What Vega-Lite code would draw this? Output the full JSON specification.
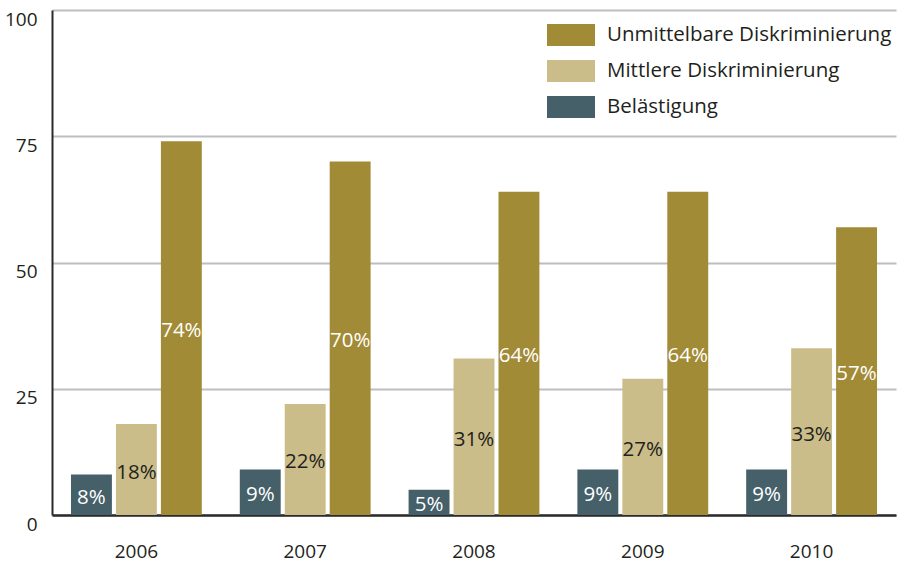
{
  "$schema": "https://vega.github.io/schema/vega-lite/v6.json",
  "width": 844,
  "height": 505,
  "autosize": {"type": "none"},
  "padding": {"left": 52, "top": 10, "right": 1, "bottom": 48},
  "config": {
    "font": "Open Sans",
    "view": {"stroke": null},
    "axis": {"labelColor": "#231f20", "labelFontSize": 19, "ticks": false, "title": null, "domainColor": "#2b2b2b"}
  },
  "data": {
    "values": [
      {"jahr": "2006", "typ": "Belästigung", "wert": 8, "label": "8%"},
      {"jahr": "2006", "typ": "Mittlere Diskriminierung", "wert": 18, "label": "18%"},
      {"jahr": "2006", "typ": "Unmittelbare Diskriminierung", "wert": 74, "label": "74%"},
      {"jahr": "2007", "typ": "Belästigung", "wert": 9, "label": "9%"},
      {"jahr": "2007", "typ": "Mittlere Diskriminierung", "wert": 22, "label": "22%"},
      {"jahr": "2007", "typ": "Unmittelbare Diskriminierung", "wert": 70, "label": "70%"},
      {"jahr": "2008", "typ": "Belästigung", "wert": 5, "label": "5%"},
      {"jahr": "2008", "typ": "Mittlere Diskriminierung", "wert": 31, "label": "31%"},
      {"jahr": "2008", "typ": "Unmittelbare Diskriminierung", "wert": 64, "label": "64%"},
      {"jahr": "2009", "typ": "Belästigung", "wert": 9, "label": "9%"},
      {"jahr": "2009", "typ": "Mittlere Diskriminierung", "wert": 27, "label": "27%"},
      {"jahr": "2009", "typ": "Unmittelbare Diskriminierung", "wert": 64, "label": "64%"},
      {"jahr": "2010", "typ": "Belästigung", "wert": 9, "label": "9%"},
      {"jahr": "2010", "typ": "Mittlere Diskriminierung", "wert": 33, "label": "33%"},
      {"jahr": "2010", "typ": "Unmittelbare Diskriminierung", "wert": 57, "label": "57%"}
    ]
  },
  "encoding": {
    "x": {
      "field": "jahr", "type": "nominal",
      "scale": {"paddingInner": 0.225, "paddingOuter": 0.1125},
      "axis": {"labelAngle": 0, "labelPadding": 27, "domainWidth": 2.5, "labelFontSize": 19}
    },
    "xOffset": {
      "field": "typ", "type": "nominal",
      "sort": ["Belästigung", "Mittlere Diskriminierung", "Unmittelbare Diskriminierung"],
      "scale": {"paddingInner": 0.09, "paddingOuter": 0}
    }
  },
  "layer": [
    {
      "mark": {"type": "bar"},
      "encoding": {
        "y": {
          "field": "wert", "type": "quantitative",
          "scale": {"domain": [0, 100], "nice": false},
          "axis": {"values": [0, 25, 50, 75, 100], "grid": true, "gridColor": "#bdbdc3", "gridWidth": 2, "domainWidth": 2, "labelBaseline": "top", "labelPadding": 15, "labelFontSize": 19}
        },
        "color": {
          "field": "typ", "type": "nominal",
          "scale": {
            "domain": ["Unmittelbare Diskriminierung", "Mittlere Diskriminierung", "Belästigung"],
            "range": ["#a28b36", "#cbbd89", "#456069"]
          },
          "legend": {
            "title": null,
            "orient": "none",
            "legendX": 495,
            "legendY": 1,
            "padding": 0,
            "symbolType": "M-1,-0.46H1V0.46H-1Z",
            "symbolSize": 2304,
            "symbolStrokeWidth": 0,
            "symbolOpacity": 1,
            "labelFontSize": 20.5,
            "labelLimit": 400,
            "labelColor": "#231f20",
            "labelOffset": 12,
            "rowPadding": 0
          }
        }
      }
    },
    {
      "transform": [{"calculate": "datum.wert / 2", "as": "mitte"}],
      "mark": {"type": "text", "fontSize": 20.5, "dy": 3},
      "encoding": {
        "y": {"field": "mitte", "type": "quantitative"},
        "text": {"field": "label"},
        "color": {
          "condition": {"test": "datum.typ === 'Mittlere Diskriminierung'", "value": "#231f20"},
          "value": "white"
        }
      }
    }
  ]
}
